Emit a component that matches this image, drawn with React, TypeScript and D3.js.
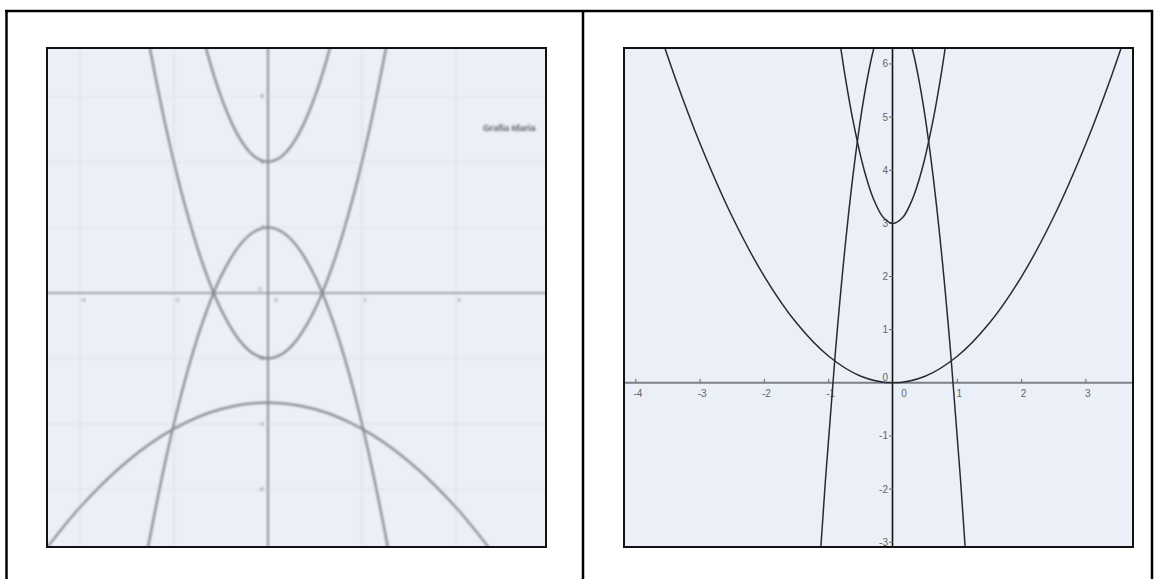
import React from "react";
import * as d3 from "d3";

// ---------- Left panel data (blurred GeoGebra graph) ----------
const leftXTicks = [-4, -2, 2, 4];
const leftYTicks = [-6, -4, -2, 2, 4, 6];
const leftNote = "Grafia Idaria";

const leftA_x = [-1.4, -1.2, -1, -0.8, -0.6, -0.4, -0.2, 0, 0.2, 0.4, 0.6, 0.8, 1, 1.2, 1.4];
const leftA_y = [7.92, 6.88, 6, 5.28, 4.72, 4.32, 4.08, 4, 4.08, 4.32, 4.72, 5.28, 6, 6.88, 7.92];

const leftB_x = [-2.6, -2.2, -1.8, -1.4, -1, -0.6, -0.3, 0, 0.3, 0.6, 1, 1.4, 1.8, 2.2, 2.6];
const leftB_y = [8.14, 5.26, 2.86, 0.94, -0.5, -1.46, -1.865, -2, -1.865, -1.46, -0.5, 0.94, 2.86, 5.26, 8.14];

const leftC_x = [-2.6, -2.2, -1.8, -1.4, -1, -0.6, -0.3, 0, 0.3, 0.6, 1, 1.4, 1.8, 2.2, 2.6];
const leftC_y = [-8.14, -5.26, -2.86, -0.94, 0.5, 1.46, 1.865, 2, 1.865, 1.46, 0.5, -0.94, -2.86, -5.26, -8.14];

const leftD_x = [-5, -4, -3, -2, -1, 0, 1, 2, 3, 4, 5];
const leftD_y = [-8.35, -6.55, -5.15, -4.15, -3.55, -3.35, -3.55, -4.15, -5.15, -6.55, -8.35];

// ---------- Right panel data ----------
const rightXTicks = [-4, -3, -2, -1, 0, 1, 2, 3];
const rightYTicks = [-3, -2, -1, 0, 1, 2, 3, 4, 5, 6];

const rightP_x = [-3.8, -3.4, -3, -2.5, -2, -1.5, -1, -0.5, 0, 0.5, 1, 1.5, 2, 2.5, 3, 3.4, 3.8];
const rightP_y = [7.22, 5.78, 4.5, 3.125, 2, 1.125, 0.5, 0.125, 0, 0.125, 0.5, 1.125, 2, 3.125, 4.5, 5.78, 7.22];

const rightQ_x = [-0.9, -0.75, -0.6, -0.45, -0.3, -0.15, 0, 0.15, 0.3, 0.45, 0.6, 0.75, 0.9];
const rightQ_y = [7.05, 5.81, 4.8, 4.01, 3.45, 3.11, 3, 3.11, 3.45, 4.01, 4.8, 5.81, 7.05];

const rightR_x = [-1.2, -1.05, -0.9, -0.75, -0.6, -0.45, -0.3, -0.15, 0, 0.15, 0.3, 0.45, 0.6, 0.75, 0.9, 1.05, 1.2];
const rightR_y = [-4.52, -1.82, 0.52, 2.5, 4.12, 5.38, 6.28, 6.82, 7, 6.82, 6.28, 5.38, 4.12, 2.5, 0.52, -1.82, -4.52];

const zip = (xs: number[], ys: number[]) => xs.map((x, i) => [x, ys[i]] as [number, number]);

export default function App() {
  // left panel geometry
  const L = { x0: 47, x1: 546, y0: 48, y1: 547 };
  const lx = d3.scaleLinear().domain([-4.70, 5.915]).range([L.x0, L.x1]);
  const ly = d3.scaleLinear().domain([-7.76, 7.48]).range([L.y1, L.y0]);
  const lline = d3.line<[number, number]>().x(d => lx(d[0])).y(d => ly(d[1])).curve(d3.curveCatmullRom);

  // right panel geometry
  const R = { x0: 624, x1: 1133, y0: 48, y1: 547 };
  const rx = d3.scaleLinear().domain([-4.184, 3.733]).range([R.x0, R.x1]);
  const ry = d3.scaleLinear().domain([-3.089, 6.30]).range([R.y1, R.y0]);
  const rline = d3.line<[number, number]>().x(d => rx(d[0])).y(d => ry(d[1])).curve(d3.curveCatmullRom);

  const leftCurves = [zip(leftA_x, leftA_y), zip(leftB_x, leftB_y), zip(leftC_x, leftC_y), zip(leftD_x, leftD_y)];
  const rightCurves = [zip(rightP_x, rightP_y), zip(rightQ_x, rightQ_y), zip(rightR_x, rightR_y)];

  const bg = "#ebeff8";
  const font = "Liberation Sans, Arial, sans-serif";

  return (
    <svg width={1158} height={579} style={{ position: "absolute", left: 0, top: 0, background: "#fff" }}>
      <defs>
        <clipPath id="clipL"><rect x={L.x0} y={L.y0} width={L.x1 - L.x0} height={L.y1 - L.y0} /></clipPath>
        <clipPath id="clipR"><rect x={R.x0} y={R.y0} width={R.x1 - R.x0} height={R.y1 - R.y0} /></clipPath>
        <filter id="blurL" x="-5%" y="-5%" width="110%" height="110%">
          <feGaussianBlur stdDeviation="0.8" />
        </filter>
      </defs>

      {/* outer table borders */}
      <line x1={5} x2={1153} y1={11} y2={11} stroke="#000" strokeWidth={2.5} />
      <line x1={6.5} x2={6.5} y1={10} y2={579} stroke="#000" strokeWidth={2.5} />
      <line x1={583} x2={583} y1={10} y2={579} stroke="#000" strokeWidth={2.5} />
      <line x1={1152} x2={1152} y1={10} y2={579} stroke="#000" strokeWidth={2.5} />

      {/* ---------- LEFT PANEL ---------- */}
      <rect x={L.x0} y={L.y0} width={L.x1 - L.x0} height={L.y1 - L.y0} fill={bg} />
      <g clipPath="url(#clipL)">
        <g filter="url(#blurL)">
          {leftXTicks.map(t => (
            <line key={"lgx" + t} x1={lx(t)} x2={lx(t)} y1={L.y0} y2={L.y1} stroke="#dfe3eb" strokeWidth={1.6} />
          ))}
          {leftYTicks.map(t => (
            <line key={"lgy" + t} x1={L.x0} x2={L.x1} y1={ly(t)} y2={ly(t)} stroke="#e1e5ed" strokeWidth={1.6} />
          ))}
          <line x1={L.x0} x2={L.x1} y1={ly(0)} y2={ly(0)} stroke="#a0a4ac" strokeWidth={2} />
          <line x1={lx(0)} x2={lx(0)} y1={L.y0} y2={L.y1} stroke="#8d9098" strokeWidth={2} />
          {leftXTicks.map(t => (
            <text key={"lxl" + t} x={lx(t) + 3} y={ly(0) + 9} fontSize={6} fill="#7a7d85" textAnchor="middle" fontFamily={font}>{t}</text>
          ))}
          <text x={lx(0) + 8} y={ly(0) + 9} fontSize={6} fill="#7a7d85" textAnchor="middle" fontFamily={font}>0</text>
          <text x={lx(0) - 8} y={ly(0) - 2} fontSize={6} fill="#7a7d85" textAnchor="middle" fontFamily={font}>0</text>
          {leftYTicks.map(t => (
            <text key={"lyl" + t} x={lx(0) - 4} y={ly(t) + 2} fontSize={6} fill="#6f727a" textAnchor="end" fontFamily={font}>{t}</text>
          ))}
          {leftCurves.map((c, i) => (
            <path key={"lc" + i} d={lline(c) || ""} fill="none" stroke="#84878e" strokeWidth={2.2} />
          ))}
          <text x={483} y={131} fontSize={9} fontWeight="bold" fill="#5a5c62" fontFamily={font}>{leftNote}</text>
        </g>
      </g>
      <rect x={L.x0} y={L.y0} width={L.x1 - L.x0} height={L.y1 - L.y0} fill="none" stroke="#111" strokeWidth={2} />

      {/* ---------- RIGHT PANEL ---------- */}
      <rect x={R.x0} y={R.y0} width={R.x1 - R.x0} height={R.y1 - R.y0} fill={bg} />
      <g clipPath="url(#clipR)">
        <line x1={R.x0} x2={R.x1} y1={ry(0)} y2={ry(0)} stroke="#7d8088" strokeWidth={2} />
        <line x1={rx(0) - 0.5} x2={rx(0) - 0.5} y1={R.y0} y2={R.y1} stroke="#111" strokeWidth={1.6} />
        {rightXTicks.filter(t => t !== 0).map(t => (
          <g key={"rx" + t}>
            <line x1={rx(t)} x2={rx(t)} y1={ry(0) - 4} y2={ry(0)} stroke="#666" strokeWidth={1} />
            <text x={rx(t) + 2} y={ry(0) + 14} fontSize={10} fill="#666" textAnchor="middle" fontFamily={font}>{t}</text>
          </g>
        ))}
        <text x={rx(0) + 11} y={ry(0) + 14} fontSize={10} fill="#666" textAnchor="middle" fontFamily={font}>0</text>
        {rightYTicks.map(t => (
          <g key={"ry" + t}>
            {t !== 0 && <line x1={rx(0) - 4} x2={rx(0)} y1={ry(t)} y2={ry(t)} stroke="#666" strokeWidth={1} />}
            <text x={rx(0) - 5} y={t === 0 ? ry(0) - 2 : ry(t) + 3.5} fontSize={10} fill="#666" textAnchor="end" fontFamily={font}>{t}</text>
          </g>
        ))}
        {rightCurves.map((c, i) => (
          <path key={"rc" + i} d={rline(c) || ""} fill="none" stroke="#2a2a2e" strokeWidth={1.5} />
        ))}
      </g>
      <rect x={R.x0} y={R.y0} width={R.x1 - R.x0} height={R.y1 - R.y0} fill="none" stroke="#111" strokeWidth={2} />
    </svg>
  );
}
